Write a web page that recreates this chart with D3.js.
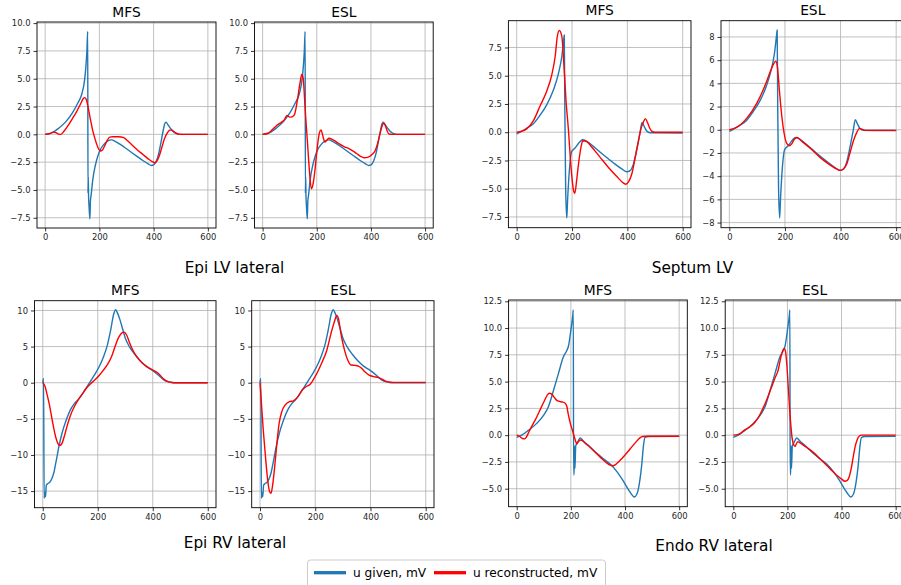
<!DOCTYPE html>
<html><head><meta charset="utf-8">
<script src="https://cdn.jsdelivr.net/npm/d3@7"></script>
<style>body{margin:0;background:#fff;} svg{display:block;font-family:"DejaVu Sans",sans-serif;}</style>
</head><body>
<svg id="chart" width="901" height="585"></svg>
<script>
// ---------------- DATA ----------------
const groupTitles = ["Epi LV lateral", "Septum LV", "Epi RV lateral", "Endo RV lateral"];
const methodTitles = ["MFS", "ESL"];
const seriesNames = ["u given, mV", "u reconstructed, mV"];
const xTicks = [0, 200, 400, 600];
const yTicksEpiLV = [-7.5, -5, -2.5, 0, 2.5, 5, 7.5, 10];
const yTicksSeptumMFS = [-7.5, -5, -2.5, 0, 2.5, 5, 7.5];
const yTicksSeptumESL = [-8, -6, -4, -2, 0, 2, 4, 6, 8];
const yTicksEpiRV = [-15, -10, -5, 0, 5, 10];
const yTicksEndoRV = [-5, -2.5, 0, 2.5, 5, 7.5, 10, 12.5];

// [time, value] pairs
const epiLVGiven = [[0,0],[15,0.05],[30,0.2],[50,0.55],[75,1.1],[100,1.9],[120,2.8],[135,3.6],[145,4.8],[150,6.0],[154,7.5],[157,9.25],[158,-5.3],[159,-3.8],[160,-5.4],[162,-6.5],[165,-7.6],[167,-6.0],[170,-5.4],[175,-4.2],[185,-2.8],[195,-1.9],[205,-1.3],[215,-0.95],[230,-0.6],[245,-0.5],[260,-0.65],[280,-0.95],[300,-1.3],[320,-1.65],[340,-2.0],[360,-2.35],[380,-2.65],[392,-2.8],[400,-2.75],[410,-2.4],[420,-1.6],[428,-0.6],[435,0.3],[441,0.95],[446,1.1],[452,0.9],[460,0.6],[470,0.3],[480,0.1],[490,0.02],[500,0],[600,0]];
const epiLVMFS = [[0,0],[15,0.05],[30,0.2],[40,0.15],[50,0.02],[58,0],[70,0.3],[85,0.8],[100,1.4],[115,2.0],[130,2.7],[140,3.2],[146,3.3],[152,3.1],[158,2.5],[165,1.6],[175,0.4],[185,-0.5],[195,-1.2],[203,-1.5],[210,-1.45],[220,-1.0],[230,-0.5],[238,-0.25],[250,-0.22],[270,-0.22],[290,-0.3],[305,-0.6],[320,-0.95],[340,-1.4],[360,-1.8],[380,-2.2],[395,-2.45],[405,-2.55],[412,-2.4],[420,-2.0],[430,-1.2],[440,-0.4],[450,0.1],[458,0.35],[465,0.4],[472,0.3],[480,0.15],[490,0.03],[500,0],[600,0]];
const epiLVESL = [[0,0],[20,0.1],[35,0.4],[52,0.8],[70,1.1],[80,1.3],[90,1.7],[100,1.55],[110,1.6],[118,1.8],[128,3.0],[138,4.6],[145,5.4],[150,5.0],[155,3.2],[160,1.2],[165,-0.5],[172,-3.0],[180,-4.9],[186,-4.5],[192,-3.5],[200,-1.6],[207,-0.2],[212,0.3],[216,0.4],[220,0.1],[225,-0.4],[230,-0.7],[238,-0.5],[245,-0.35],[260,-0.5],[280,-0.8],[300,-1.1],[320,-1.3],[340,-1.6],[360,-1.95],[375,-2.1],[390,-2.05],[405,-1.8],[415,-1.5],[425,-0.8],[435,0.2],[442,0.8],[447,1.0],[452,0.85],[460,0.3],[466,0.05],[475,0],[600,0]];

const septumGiven = [[0,-0.15],[15,0.05],[36,0.35],[60,0.75],[84,1.5],[108,2.4],[133,3.75],[151,5.2],[163,6.7],[170,8.2],[172,8.6],[174,2.0],[177,-5.0],[181,-7.6],[184,-6.0],[190,-3.5],[199,-1.7],[211,-1.4],[223,-1.0],[239,-0.66],[253,-0.8],[277,-1.25],[313,-2.0],[349,-2.7],[380,-3.25],[398,-3.5],[410,-3.4],[422,-2.8],[434,-1.5],[446,0.0],[453,0.87],[461,0.5],[470,0.1],[482,-0.05],[600,-0.07]];
const septumMFS = [[0,0],[20,0.1],[36,0.3],[60,1.0],[84,2.3],[108,3.6],[127,5.1],[139,6.7],[147,8.5],[154,9.0],[163,8.5],[171,5.8],[178,2.9],[187,0.2],[196,-3.0],[205,-5.1],[210,-5.4],[217,-4.2],[225,-2.5],[233,-1.25],[239,-0.75],[251,-0.8],[271,-1.3],[301,-2.2],[331,-3.1],[361,-3.9],[386,-4.5],[394,-4.6],[404,-4.4],[416,-3.7],[428,-2.3],[440,-0.8],[449,0.3],[458,0.9],[465,1.2],[472,0.9],[480,0.4],[488,0.1],[500,0],[600,0]];
const septumESL = [[0,0],[26,0.2],[63,1.0],[99,2.3],[129,3.85],[147,5.0],[161,5.75],[167,5.9],[173,5.4],[180,3.4],[189,1.1],[197,-0.3],[207,-1.2],[216,-1.38],[225,-1.2],[233,-0.85],[243,-0.66],[261,-1.0],[291,-1.6],[327,-2.4],[363,-3.05],[387,-3.4],[399,-3.5],[411,-3.35],[423,-2.9],[435,-1.9],[447,-0.9],[459,-0.2],[468,0.12],[477,0.05],[489,-0.05],[600,-0.05]];

const epiRVGiven = [[0,0],[3,0.6],[5,-16.0],[8,-15.2],[10,-15.8],[13,-14.2],[17,-14.0],[25,-13.8],[33,-13.3],[40,-12.5],[48,-11.0],[58,-9.0],[70,-7.0],[85,-5.2],[100,-3.8],[115,-2.9],[130,-2.3],[145,-1.5],[160,-0.6],[175,0.3],[190,1.2],[205,2.2],[220,3.5],[235,5.2],[248,7.5],[258,9.5],[265,10.1],[270,9.8],[280,8.8],[290,7.5],[300,6.2],[315,5.0],[335,3.9],[355,3.0],[375,2.3],[395,1.8],[410,1.4],[425,0.9],[440,0.4],[455,0.15],[470,0.03],[485,0],[600,0]];
const epiRVMFS = [[0,0],[8,-0.5],[15,-1.5],[25,-3.2],[35,-5.3],[45,-7.2],[55,-8.4],[62,-8.7],[70,-8.4],[80,-7.2],[90,-5.8],[100,-4.6],[115,-3.3],[130,-2.3],[145,-1.5],[160,-0.7],[175,-0.1],[190,0.4],[205,1.0],[220,1.7],[235,2.5],[250,3.6],[262,4.9],[275,6.2],[288,6.9],[296,7.0],[305,6.6],[315,5.6],[325,4.7],[340,3.7],[360,2.8],[380,2.2],[400,1.75],[415,1.45],[425,1.1],[440,0.5],[455,0.15],[470,0.03],[485,0],[600,0]];
const epiRVESL = [[0,0],[6,-3.3],[12,-6.6],[20,-10.3],[28,-13.5],[35,-15.1],[40,-15.3],[45,-14.4],[52,-12.1],[60,-8.9],[69,-5.7],[79,-4.0],[91,-3.1],[105,-2.65],[121,-2.5],[136,-2.0],[153,-1.0],[169,-0.5],[181,-0.25],[199,0.8],[223,2.7],[242,4.5],[257,6.8],[269,8.4],[278,9.3],[284,8.9],[293,6.8],[306,4.5],[318,3.1],[330,2.45],[344,2.4],[356,2.3],[368,2.0],[380,1.5],[395,1.05],[411,0.85],[429,0.7],[441,0.5],[453,0.25],[465,0.1],[483,0.05],[600,0.05]];

const endoRVGiven = [[0,-0.2],[18,0],[43,0.45],[74,1.1],[99,1.85],[117,2.65],[136,4.2],[154,5.75],[172,7.3],[185,7.9],[191,8.3],[200,9.8],[207,11.2],[209,11.7],[210,-3.7],[212,-3.7],[213,-1.0],[215,-3.1],[218,-1.0],[222,-0.8],[228,-0.5],[234,-0.25],[246,-0.55],[271,-1.1],[296,-1.7],[320,-2.2],[345,-2.7],[370,-3.4],[394,-4.3],[413,-5.1],[425,-5.55],[434,-5.78],[444,-5.5],[453,-4.5],[462,-2.7],[468,-1.0],[474,-0.2],[487,-0.12],[600,-0.1]];
const endoRVMFS = [[0,0],[10,-0.1],[20,-0.3],[28,-0.35],[35,-0.2],[45,0.3],[55,0.8],[70,1.5],[85,2.3],[100,3.1],[112,3.7],[120,3.92],[128,3.85],[138,3.55],[148,3.25],[158,3.15],[168,3.1],[178,3.0],[185,2.7],[190,2.0],[197,1.2],[205,0.5],[212,-0.1],[218,-0.6],[222,-0.8],[228,-0.6],[235,-0.45],[242,-0.5],[255,-0.8],[270,-1.1],[290,-1.6],[310,-2.1],[330,-2.55],[345,-2.8],[355,-2.85],[365,-2.75],[380,-2.4],[400,-1.85],[420,-1.25],[440,-0.65],[455,-0.25],[465,-0.12],[480,-0.1],[600,-0.1]];
const endoRVESL = [[0,0],[15,0.05],[25,0.15],[40,0.45],[60,0.75],[80,1.2],[100,2.0],[120,3.1],[140,4.4],[155,5.4],[165,6.0],[175,7.2],[183,7.9],[188,8.1],[193,7.8],[198,6.5],[203,4.5],[208,2.5],[213,0.8],[218,-0.4],[223,-0.9],[228,-1.05],[233,-0.8],[238,-0.6],[245,-0.7],[260,-0.95],[280,-1.3],[300,-1.7],[320,-2.2],[340,-2.7],[360,-3.2],[380,-3.7],[400,-4.1],[412,-4.3],[420,-4.25],[428,-3.9],[435,-3.2],[442,-2.2],[450,-1.1],[458,-0.4],[465,-0.1],[475,0],[600,0]];

// ---------------- LAYOUT ----------------
const BLUE = "#1f77b4", RED = "#ff0000";
const svg = d3.select("#chart");

const panels = [
  {g:0, m:0, given:epiLVGiven, rec:epiLVMFS, x:[37,216], y:[22,228], yd:[-8.42,10.1], yt:yTicksEpiLV, fmt:".1f"},
  {g:0, m:1, given:epiLVGiven, rec:epiLVESL, x:[254.5,433.2], y:[22,228], yd:[-8.42,10.1], yt:yTicksEpiLV, fmt:".1f"},
  {g:1, m:0, given:septumGiven, rec:septumMFS, x:[508.4,691], y:[20.7,227.7], yd:[-8.45,9.87], yt:yTicksSeptumMFS, fmt:".1f"},
  {g:1, m:1, given:septumGiven, rec:septumESL, x:[721,904.5], y:[20.7,227.7], yd:[-8.44,9.4], yt:yTicksSeptumESL, fmt:"d"},
  {g:2, m:0, given:epiRVGiven, rec:epiRVMFS, x:[34.5,216], y:[300.7,507.7], yd:[-17.3,11.35], yt:yTicksEpiRV, fmt:"d"},
  {g:2, m:1, given:epiRVGiven, rec:epiRVESL, x:[251.7,434], y:[300.7,507.7], yd:[-17.3,11.35], yt:yTicksEpiRV, fmt:"d"},
  {g:3, m:0, given:endoRVGiven, rec:endoRVMFS, x:[508.6,687.3], y:[300,506.7], yd:[-6.68,12.62], yt:yTicksEndoRV, fmt:".1f"},
  {g:3, m:1, given:endoRVGiven, rec:endoRVESL, x:[725.2,903.8], y:[300,506.7], yd:[-6.68,12.62], yt:yTicksEndoRV, fmt:".1f"}
];

const groupLabelPos = [[234.5,273],[692.5,272.5],[235,548],[714,550.5]];

const defs = svg.append("defs");
const TICK_FS = 8.4;

panels.forEach((p, i) => {
  const xs = d3.scaleLinear().domain([-30, 630]).range(p.x);
  const ys = d3.scaleLinear().domain(p.yd).range([p.y[1], p.y[0]]);
  const g = svg.append("g");
  const W = p.x[1]-p.x[0], H = p.y[1]-p.y[0];

  defs.append("clipPath").attr("id","clip"+i)
    .append("rect").attr("x",p.x[0]).attr("y",p.y[0]).attr("width",W).attr("height",H);

  // grid
  g.append("g").selectAll("line.vx").data(xTicks).join("line")
    .attr("x1",d=>xs(d)).attr("x2",d=>xs(d)).attr("y1",p.y[0]).attr("y2",p.y[1])
    .attr("stroke","#b0b0b0").attr("stroke-width",0.8);
  g.append("g").selectAll("line.hy").data(p.yt).join("line")
    .attr("y1",d=>ys(d)).attr("y2",d=>ys(d)).attr("x1",p.x[0]).attr("x2",p.x[1])
    .attr("stroke","#b0b0b0").attr("stroke-width",0.8);

  const line = d3.line().x(d=>xs(d[0])).y(d=>ys(d[1])).curve(d3.curveMonotoneX);
  const lg = g.append("g").attr("clip-path","url(#clip"+i+")");
  lg.append("path").attr("d", line(p.given)).attr("fill","none").attr("stroke",BLUE).attr("stroke-width",1.4).attr("stroke-linejoin","round");
  lg.append("path").attr("d", line(p.rec)).attr("fill","none").attr("stroke",RED).attr("stroke-width",1.4).attr("stroke-linejoin","round");

  // axes via d3
  const xAxis = d3.axisBottom(xs).tickValues(xTicks).tickSize(3.5).tickPadding(3).tickFormat(d3.format("d"));
  const yAxis = d3.axisLeft(ys).tickValues(p.yt).tickSize(3.5).tickPadding(3).tickFormat(d3.format(p.fmt));
  const xa = g.append("g").attr("transform",`translate(0,${p.y[1]})`).call(xAxis);
  const ya = g.append("g").attr("transform",`translate(${p.x[0]},0)`).call(yAxis);
  [xa, ya].forEach(a => {
    a.select(".domain").remove();
    a.selectAll("line").attr("stroke","#000").attr("stroke-width",0.8);
    a.selectAll("text").attr("fill","#262626").style("font-size",TICK_FS+"px").style("font-family","'DejaVu Sans'");
  });

  // frame
  g.append("rect").attr("x",p.x[0]).attr("y",p.y[0]).attr("width",W).attr("height",H)
    .attr("fill","none").attr("stroke","#000").attr("stroke-width",0.9);

  // title
  g.append("text").attr("x",(p.x[0]+p.x[1])/2).attr("y",p.y[0]-5.5)
    .attr("text-anchor","middle").style("font-size","13.8px").attr("fill","#000")
    .text(methodTitles[p.m]);
});

groupTitles.forEach((t,i) => {
  svg.append("text").attr("x",groupLabelPos[i][0]).attr("y",groupLabelPos[i][1])
    .attr("text-anchor","middle").style("font-size","15.3px").attr("fill","#000").text(t);
});

// legend
const leg = svg.append("g");
leg.append("rect").attr("x",307.5).attr("y",560).attr("width",298).attr("height",40).attr("rx",3)
  .attr("fill","#fff").attr("stroke","#cccccc").attr("stroke-width",1);
const legItems = [{name:seriesNames[0], c:BLUE, x:314}, {name:seriesNames[1], c:RED, x:434}];
legItems.forEach(it => {
  leg.append("line").attr("x1",it.x).attr("x2",it.x+32).attr("y1",572.7).attr("y2",572.7)
    .attr("stroke",it.c).attr("stroke-width",3.3);
  leg.append("text").attr("x",it.x+39).attr("y",577.2).style("font-size","12.2px").attr("fill","#000").text(it.name);
});
</script>
</body></html>
